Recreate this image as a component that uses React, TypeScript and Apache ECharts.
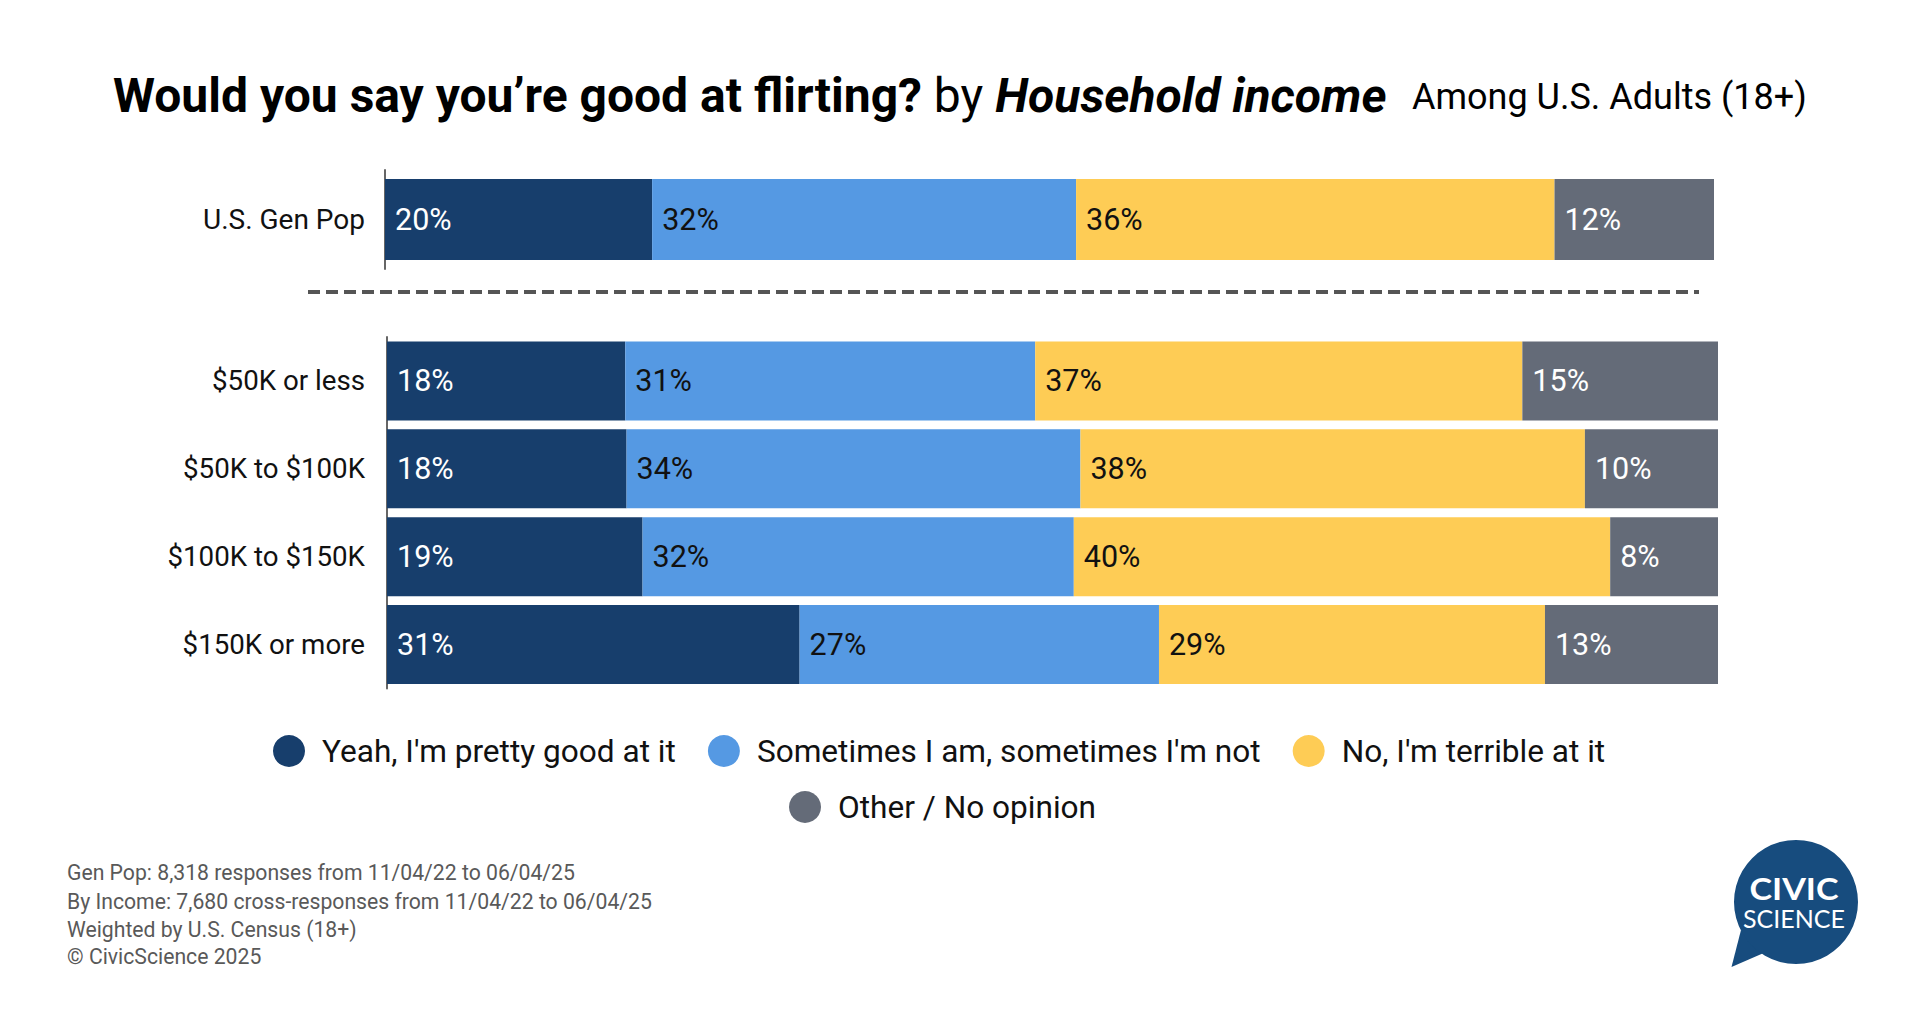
import React, { useEffect, useRef } from "react";
import * as echarts from "echarts";

// ---- data ----
const seriesNames = [
  "Yeah, I'm pretty good at it",
  "Sometimes I am, sometimes I'm not",
  "No, I'm terrible at it",
  "Other / No opinion",
];
const seriesColors = ["#173e6c", "#5599e3", "#fecc55", "#646b78"];
const labelColors = ["#ffffff", "#111111", "#111111", "#ffffff"];

const genPopCategories = ["U.S. Gen Pop"];
const genPopGood = [20.1];
const genPopSometimes = [31.9];
const genPopTerrible = [36.0];
const genPopOther = [12.0];

const incomeCategories = ["$50K or less", "$50K to $100K", "$100K to $150K", "$150K or more"];
const incomeGood = [17.9, 18.0, 19.2, 31.0];
const incomeSometimes = [30.8, 34.1, 32.4, 27.0];
const incomeTerrible = [36.6, 37.9, 40.3, 29.0];
const incomeOther = [14.7, 10.0, 8.1, 13.0];

const titleMain = "Would you say you\u2019re good at flirting?";
const titleBy = " by ";
const titleDim = "Household income";
const subtitle = "Among U.S. Adults (18+)";

const footerLines = [
  "Gen Pop: 8,318 responses from 11/04/22 to 06/04/25",
  "By Income: 7,680 cross-responses from 11/04/22 to 06/04/25",
  "Weighted by U.S. Census (18+)",
  "\u00A9 CivicScience 2025",
];

const FONT = "Roboto, 'Noto Sans', sans-serif";

export default function App() {
  const ref = useRef<HTMLDivElement>(null);

  useEffect(() => {
    if (!ref.current) return;
    const chart = echarts.init(ref.current, undefined, { renderer: "svg" });

    const genPopData = [genPopGood, genPopSometimes, genPopTerrible, genPopOther];
    const incomeData = [incomeGood, incomeSometimes, incomeTerrible, incomeOther];

    const makeSeries = (data: number[][], idx: number, stack: string, barWidth: number) =>
      data.map((vals, i) => ({
        type: "bar",
        name: seriesNames[i],
        stack,
        xAxisIndex: idx,
        yAxisIndex: idx,
        barWidth,
        data: vals,
        itemStyle: { color: seriesColors[i] },
        label: {
          show: true,
          position: "insideLeft",
          distance: 10,
          formatter: (p: any) => Math.round(p.value) + "%",
          color: labelColors[i],
          fontSize: 30.5,
          fontFamily: FONT,
        },
      }));

    const legendCommon = {
      orient: "horizontal",
      icon: "circle",
      itemWidth: 32,
      itemHeight: 32,
      itemGap: 32,
      textStyle: {
        fontSize: 31.6,
        fontFamily: FONT,
        color: "#111111",
        padding: [0, 0, 0, 12],
      },
    };

    const option: any = {
      animation: false,
      backgroundColor: "#ffffff",
      textStyle: { fontFamily: FONT },
      grid: [
        { left: 385, width: 1329, top: 170, height: 99 },
        { left: 387, width: 1331, top: 337, height: 351.5 },
      ],
      xAxis: [
        { type: "value", gridIndex: 0, min: 0, max: 100, show: false },
        { type: "value", gridIndex: 1, min: 0, max: 100, show: false },
      ],
      yAxis: [
        {
          type: "category",
          gridIndex: 0,
          data: genPopCategories,
          inverse: true,
          axisLine: { show: true, lineStyle: { color: "#666666", width: 2 } },
          axisTick: { show: false },
          axisLabel: { fontSize: 28, color: "#111111", margin: 20, fontFamily: FONT },
        },
        {
          type: "category",
          gridIndex: 1,
          data: incomeCategories,
          inverse: true,
          axisLine: { show: true, lineStyle: { color: "#666666", width: 2 } },
          axisTick: { show: false },
          axisLabel: { fontSize: 27.7, color: "#111111", margin: 22, fontFamily: FONT },
        },
      ],
      legend: [
        { ...legendCommon, data: seriesNames.slice(0, 3), left: 268, top: 730 },
        { ...legendCommon, data: seriesNames.slice(3), left: 784, top: 786 },
      ],
      series: [
        ...makeSeries(genPopData, 0, "genpop", 81),
        ...makeSeries(incomeData, 1, "income", 79),
      ],
      graphic: [
        {
          type: "text",
          left: 113,
          top: 71,
          style: {
            text: `{a|${titleMain}}{b|${titleBy}}{c|${titleDim}}`,
            rich: {
              a: { fontSize: 48, fontWeight: "bold", fontFamily: FONT, fill: "#000000" },
              b: { fontSize: 48, fontWeight: "normal", fontFamily: FONT, fill: "#000000" },
              c: { fontSize: 48, fontWeight: "bold", fontStyle: "italic", fontFamily: FONT, fill: "#000000" },
            },
          },
        },
        {
          type: "text",
          x: 1412,
          y: 97,
          style: {
            text: subtitle,
            fontSize: 36,
            fontFamily: FONT,
            fill: "#000000",
            align: "left",
            verticalAlign: "middle",
          },
        },
        {
          type: "line",
          shape: { x1: 308, y1: 292, x2: 1699, y2: 292 },
          style: { stroke: "#555555", lineWidth: 4, lineDash: [12, 6] },
        },
        ...footerLines.map((t, i) => ({
          type: "text",
          x: 67,
          y: [872.7, 901, 929.3, 956][i],
          style: {
            text: t,
            fontSize: 21.2,
            fontFamily: FONT,
            fill: "#595959",
            align: "left",
            verticalAlign: "middle",
          },
        })),
        {
          type: "group",
          children: [
            {
              type: "polygon",
              shape: { points: [[1741, 930], [1731.5, 967], [1766, 952]] },
              style: { fill: "#174c7e" },
            },
            {
              type: "circle",
              shape: { cx: 1796, cy: 902, r: 62 },
              style: { fill: "#174c7e" },
            },
            {
              type: "text",
              x: 1794,
              y: 888,
              scaleX: 1.1,
              style: {
                text: "CIVIC",
                fontSize: 31,
                fontWeight: "bold",
                fontFamily: "Lato, 'Open Sans', sans-serif",
                fill: "#ffffff",
                align: "center",
                verticalAlign: "middle",
              },
            },
            {
              type: "text",
              x: 1794,
              y: 917.5,
              scaleX: 1.0,
              style: {
                text: "SCIENCE",
                fontSize: 25,
                fontFamily: "Lato, 'Open Sans', sans-serif",
                fill: "#ffffff",
                align: "center",
                verticalAlign: "middle",
              },
            },
          ],
        },
      ],
    };

    chart.setOption(option);
    return () => chart.dispose();
  }, []);

  return (
    <div
      ref={ref}
      style={{ position: "fixed", left: 0, top: 0, width: 1920, height: 1024, background: "#ffffff" }}
    />
  );
}
